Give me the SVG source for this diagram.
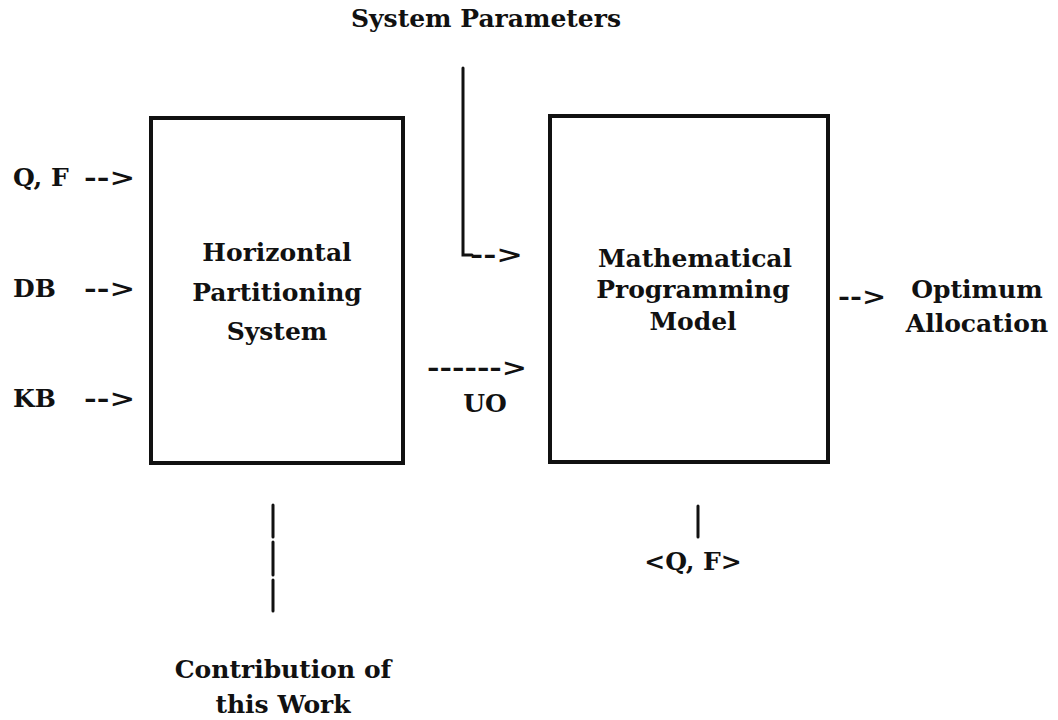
<svg xmlns="http://www.w3.org/2000/svg" width="1058" height="720" viewBox="0 0 1058 720">
<style>
text{font-family:"DejaVu Serif","Liberation Serif",serif;font-weight:bold;font-size:25px;fill:#111}
.c{text-anchor:middle}
.box{fill:none;stroke:#111;stroke-width:4}
.ln{fill:none;stroke:#111;stroke-width:3;stroke-linecap:round}
</style>
<rect width="1058" height="720" fill="#fff"/>
<g id="hps">
<rect class="box" x="151" y="118" width="252" height="345"/>
<text class="c" x="277" y="261">Horizontal</text>
<text class="c" x="277" y="301">Partitioning</text>
<text class="c" x="277" y="340">System</text>
</g>
<g id="mpm">
<rect class="box" x="550" y="116" width="278" height="346"/>
<text class="c" x="695" y="267">Mathematical</text>
<text class="c" x="693" y="298">Programming</text>
<text class="c" x="693" y="330">Model</text>
</g>
<g id="sysparam"><text class="c" x="486" y="27">System Parameters</text></g>
<g id="inputs">
<text x="13" y="186">Q, F</text><text x="84" y="186" textLength="51" lengthAdjust="spacingAndGlyphs">--&gt;</text>
<text x="13" y="297">DB</text><text x="84" y="297" textLength="51" lengthAdjust="spacingAndGlyphs">--&gt;</text>
<text x="13" y="407">KB</text><text x="84" y="407" textLength="51" lengthAdjust="spacingAndGlyphs">--&gt;</text>
</g>
<g id="output">
<text x="838" y="305" textLength="48" lengthAdjust="spacingAndGlyphs">--&gt;</text>
<text class="c" x="977" y="298">Optimum</text>
<text class="c" x="977" y="332">Allocation</text>
</g>
<g id="uo"><text class="c" x="485" y="412">UO</text></g>
<g id="qf"><text class="c" x="693" y="570">&lt;Q, F&gt;</text></g>
<g id="contrib">
<text class="c" x="283" y="678">Contribution of</text>
<text class="c" x="283" y="713">this Work</text>
</g>
<g id="connectors">
<path class="ln" d="M463 68 V255 H472"/>
<text x="470" y="263" textLength="53" lengthAdjust="spacingAndGlyphs">--&gt;</text>
<text x="427" y="376" textLength="100" lengthAdjust="spacingAndGlyphs">------&gt;</text>
<path class="ln" d="M698 506 V537"/>
<path class="ln" d="M273 505 V537 M273 542 V575 M273 580 V611"/>
</g>
</svg>
